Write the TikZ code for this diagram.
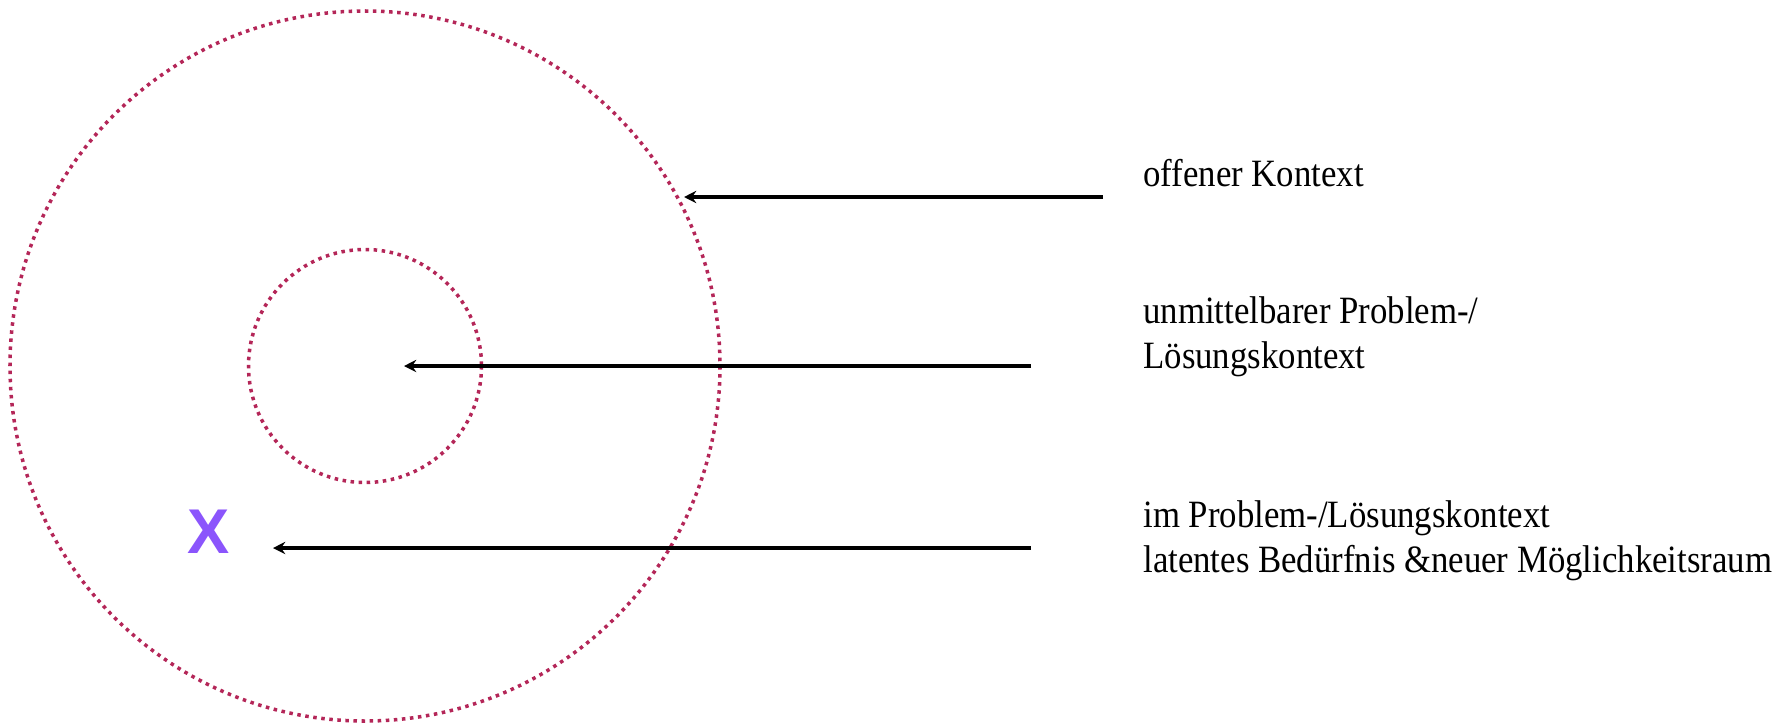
\documentclass[tikz,border=0pt]{standalone}
\usepackage{fontspec}
\setmainfont{Liberation Serif}[FakeStretch=0.9]
\newfontfamily\xfont{Liberation Sans}
\usepackage{tikz}
\usetikzlibrary{arrows.meta, calc}

\definecolor{ringred}{RGB}{180,38,88}
\definecolor{markviolet}{RGB}{139,85,252}

\tikzset{
    ring/.style={draw=ringred, line width=2pt, dash pattern=on 2pt off 2.6pt},
    pointer/.style={draw=black, line width=1.9pt, -{Stealth[length=7pt, width=7pt, inset=2.4pt]}},
    lbl/.style={inner sep=0pt, anchor=base west, font=\fontsize{22}{26}\selectfont}
}

\begin{document}
\begin{tikzpicture}[x=0.02cm, y=-0.02cm]
    \useasboundingbox (0,0) rectangle (1790,724);

    \coordinate (ctr) at (365,366);
    \draw[ring] (ctr) circle (355);
    \draw[ring] (ctr) circle (116.5);

    \node[text=markviolet, inner sep=0pt, font=\xfont\bfseries\fontsize{36}{36}\selectfont] (x) at (209,532) {X};

    % labels
    \node[lbl] (open) at (1143,186) {offener Kontext};
    \node[lbl] (near1) at (1143,323) {unmittelbarer Problem-/};
    \node[lbl] (near2) at (1143,368) {Lösungskontext};
    \node[lbl] (lat1) at (1143,527) {im Problem-/Lösungskontext};
    \node[lbl] (lat2) at (1143,572) {latentes Bedürfnis \&neuer Möglichkeitsraum};

    % arrows
    \coordinate (openS) at (1103,197);
    \coordinate (openE) at (684,197);
    \coordinate (nearS) at (1031,366);
    \coordinate (nearE) at (404,366);
    \coordinate (latS) at (1031,548);
    \coordinate (latE) at (273,548);
    \draw[pointer] (openS) -- (openE);
    \draw[pointer] (nearS) -- (nearE);
    \draw[pointer] (latS) -- (latE);
\end{tikzpicture}
\end{document}
